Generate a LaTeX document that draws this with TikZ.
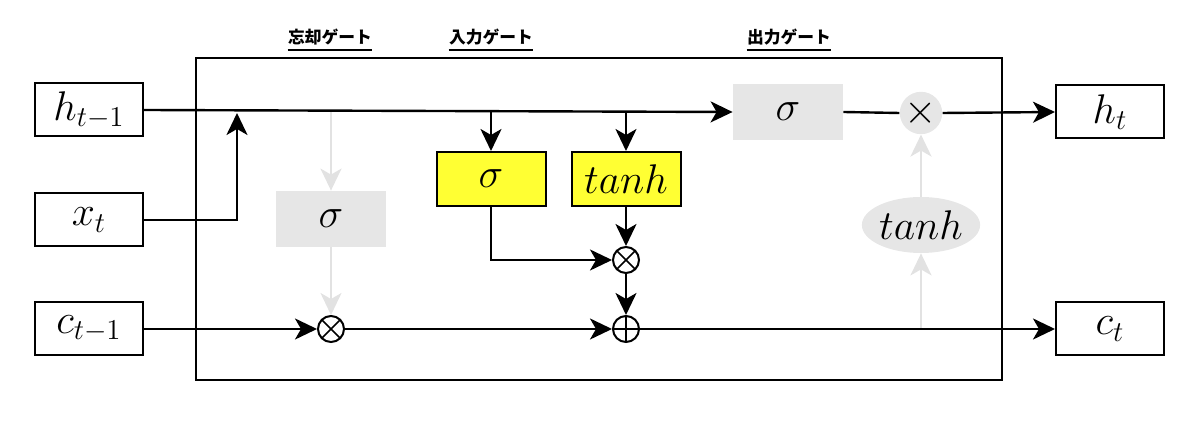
\documentclass[tikz,border=0pt]{standalone}
\usepackage{fontspec}
\newfontfamily\jp{Noto Sans CJK JP}
\usetikzlibrary{arrows.meta,shapes.geometric}
\definecolor{gfill}{HTML}{E6E6E6}
\definecolor{garrow}{HTML}{E2E2E2}
\definecolor{yfill}{HTML}{FFFF33}
\begin{document}
\begin{tikzpicture}[x=0.5pt,y=-0.5pt,
  >={Stealth[length=11pt,width=10.5pt,inset=3pt]},
  every node/.style={font=\fontsize{20}{24}\selectfont},
  conn/.style={line width=1.2pt,->},
  gconn/.style={line width=1.2pt,->,draw=garrow,fill=garrow},
  io/.style={draw,line width=1pt,minimum width=54pt,minimum height=26.5pt,inner sep=0pt},
  gbox/.style={fill=gfill,minimum width=55pt,minimum height=28pt,inner sep=0pt},
  ybox/.style={draw,fill=yfill,line width=1pt,minimum width=54.5pt,minimum height=27pt,inner sep=0pt},
  gell/.style={ellipse,fill=gfill,minimum width=55pt,minimum height=28pt,inner sep=0pt},
  mult/.style={circle,draw,fill=white,line width=1pt,minimum size=13pt,inner sep=0pt,
    path picture={\draw[line width=0.8pt] (path picture bounding box.north west) -- (path picture bounding box.south east)
      (path picture bounding box.north east) -- (path picture bounding box.south west);}},
  plus/.style={circle,draw,fill=white,line width=1pt,minimum size=13pt,inner sep=0pt,
    path picture={\draw[line width=0.8pt] (path picture bounding box.north) -- (path picture bounding box.south)
      (path picture bounding box.east) -- (path picture bounding box.west);}},
  omul/.style={circle,fill=gfill,minimum size=14pt,inner sep=0pt},
  lbl/.style={font=\jp\bfseries\fontsize{8.4}{10}\selectfont,inner sep=0pt}
]
\useasboundingbox (0,0) rectangle (1200,421);
% outer cell
\node[draw,line width=1pt,minimum width=403pt,minimum height=161pt,inner sep=0pt] (cell) at (599,219) {};
% gate labels
\node[lbl] (lf) at (330,37) {忘却ゲート};
\node[lbl] (li) at (491,37) {入力ゲート};
\node[lbl] (lo) at (789,37) {出力ゲート};
\foreach \n in {lf,li,lo}{
  \draw[line width=0.7pt] ([yshift=-2.2pt]\n.south west) -- ([yshift=-2.2pt]\n.south east);
}
% inputs / outputs
\node[io] (h0) at (89,110) {$h_{t-1}$};
\node[io] (x) at (89,220) {$x_t$};
\node[io] (c0) at (89,329) {$c_{t-1}$};
\node[io] (h1) at (1110,112) {$h_t$};
\node[io] (c1) at (1110,329) {$c_t$};
% gates
\node[gbox] (fs) at (331,219) {$\sigma$};
\node[ybox] (is) at (491,179) {$\sigma$};
\node[ybox] (it) at (626,179) {$tanh$};
\node[gbox] (os) at (788,112) {$\sigma$};
\node[gell] (ot) at (921,225) {$tanh$};
% operators
\node[mult] (fm) at (331,329) {};
\node[mult] (im) at (626,260) {};
\node[plus] (ad) at (626,329) {};
\node[omul] (om) at (921,113) {$\times$};
% junction coordinates
\coordinate (jx) at (237,113);
\coordinate (jf) at (331,110);
\coordinate (ji) at (491,111);
\coordinate (jt) at (626,112);
\coordinate (jo) at (921,329);
% gray connectors
\draw[gconn] (jf) -- (fs.north);
\draw[gconn] (fs.south) -- (fm.north);
\draw[gconn] (jo) -- (ot.south);
\draw[gconn] (ot.north) -- (om.south);
% black connectors
\draw[conn] (h0.east) -- (os.west);
\draw[conn] (x.east) -| (jx);
\draw[conn] (ji) -- (is.north);
\draw[conn] (jt) -- (it.north);
\draw[conn] (is.south) |- (im.west);
\draw[conn] (it.south) -- (im.north);
\draw[conn] (im.south) -- (ad.north);
\draw[conn] (c0.east) -- (fm.west);
\draw[conn] (fm.east) -- (ad.west);
\draw[conn] (ad.east) -- (c1.west);
\draw[line width=1.2pt] (os.east) -- (om.west);
\draw[conn] (om.east) -- (h1.west);
\end{tikzpicture}
\end{document}
